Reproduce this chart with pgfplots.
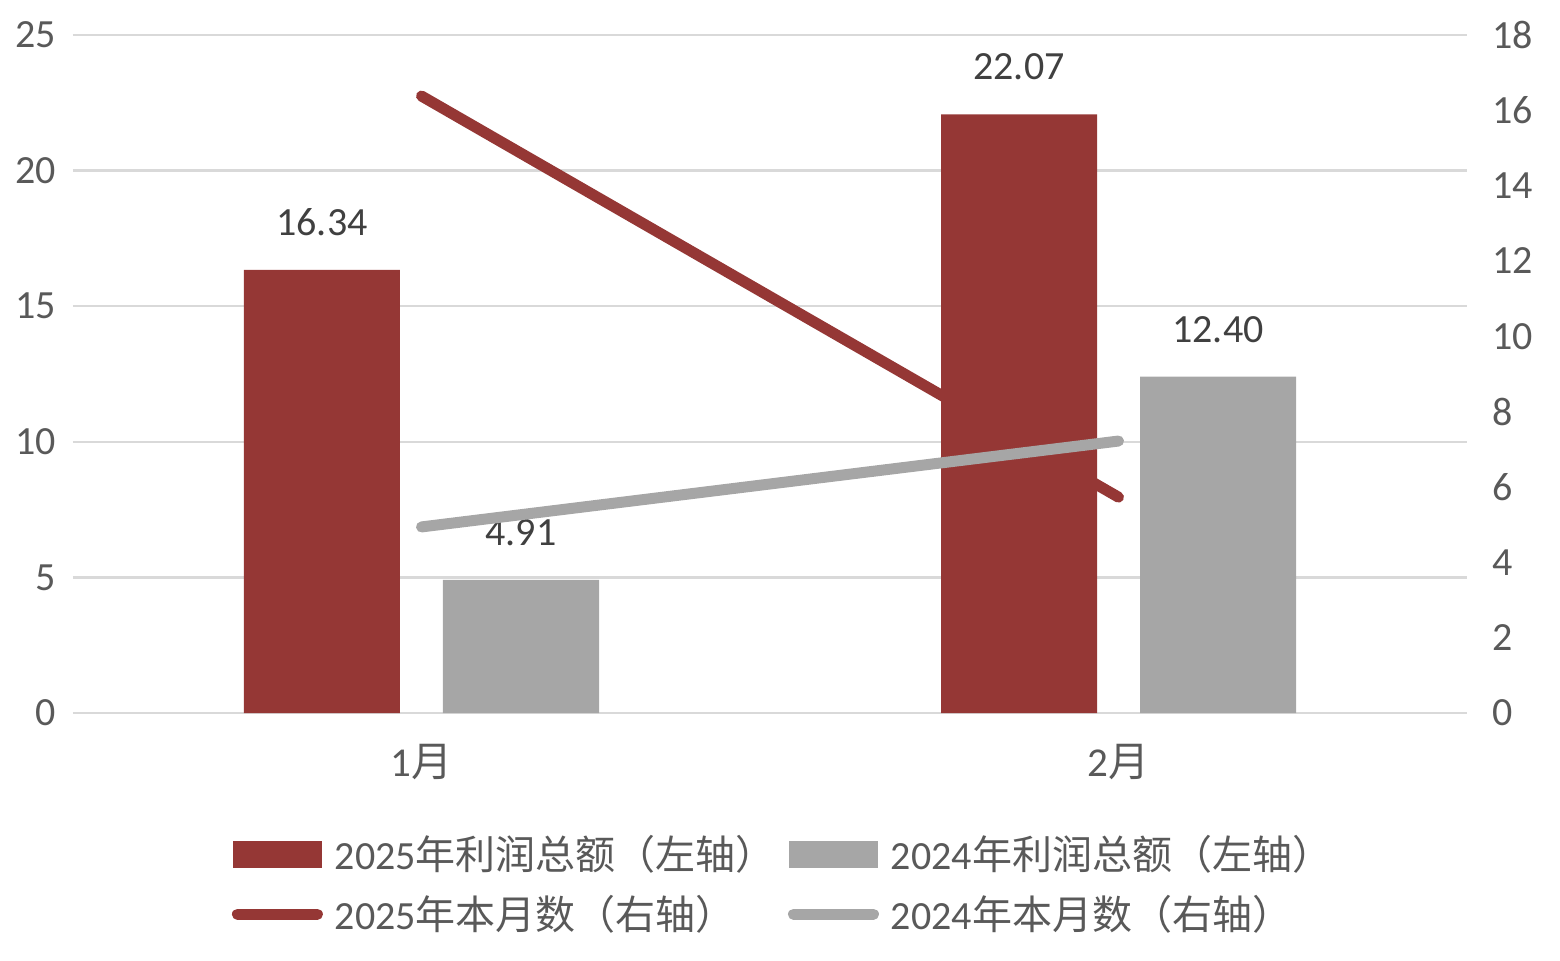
\documentclass[border=0pt]{standalone}
\usepackage{pgfplots}
\pgfplotsset{compat=1.18}
\usepackage{fontspec}
\setmainfont{Carlito}
\newfontfamily\cjk{Noto Sans CJK SC}
\definecolor{cred}{RGB}{149,55,53}
\definecolor{cgray}{RGB}{166,166,166}
\definecolor{cgrid}{RGB}{217,217,217}
\definecolor{ctext}{RGB}{89,89,89}
\definecolor{clabel}{RGB}{64,64,64}
\begin{document}
\begin{tikzpicture}
\path[use as bounding box] (-36.5pt,-123.5pt) rectangle (743.5pt,356.5pt);
\begin{axis}[
  at={(0,0)}, anchor=south west,
  scale only axis, width=697pt, height=339pt,
  xmin=-0.5, xmax=1.5, ymin=0, ymax=25,
  ybar=21.5pt, bar width=78pt,
  xtick={0,1}, xticklabels={{1{\cjk 月}},{2{\cjk 月}}},
  ytick={0,5,...,25},
  ymajorgrids, grid style={cgrid, line width=1.2pt},
  axis y line*=left, axis x line*=bottom,
  y axis line style={draw=none},
  x axis line style={cgrid, line width=1.2pt, -},
  major tick length=0,
  /pgf/number format/assume math mode=true,
  yticklabel style={font=\fontsize{20}{24}\selectfont, text=ctext, xshift=-5pt},
  xticklabel style={font=\fontsize{20.5}{24}\selectfont, text=ctext, yshift=-12pt},
  nodes near coords,
  nodes near coords style={font=\fontsize{20}{24}\selectfont, text=clabel, inner sep=0pt, yshift=17pt,
    /pgf/number format/.cd, fixed, fixed zerofill, precision=2, assume math mode=true},
]
\addplot[fill=cred, draw=none] coordinates {(0,16.34) (1,22.07)};
\addplot[fill=cgray, draw=none] coordinates {(0,4.91) (1,12.40)};
\end{axis}
\begin{axis}[
  at={(0,0)}, anchor=south west,
  scale only axis, width=697pt, height=339pt,
  xmin=-0.5, xmax=1.5, ymin=0, ymax=18,
  ytick={0,2,...,18},
  axis y line*=right, axis x line=none,
  y axis line style={draw=none},
  major tick length=0, clip=false,
  /pgf/number format/assume math mode=true,
  yticklabel style={font=\fontsize{20}{24}\selectfont, text=ctext, xshift=9pt},
  legend columns=2,
  legend cell align=left,
  legend style={draw=none, fill=none, at={(0.5,-0.168)}, anchor=north, xshift=7pt,
    font=\fontsize{20}{24}\selectfont, text=ctext,
    /tikz/every even column/.append style={column sep=4pt},
    /tikz/every odd column/.append style={column sep=4pt},
    row sep=7.5pt},
]
\addlegendimage{legend image code/.code={\fill[cred] (0pt,-6.5pt) rectangle (44pt,6.5pt);}}
\addlegendentry{2025{\cjk 年利润总额（左轴）}}
\addlegendimage{legend image code/.code={\fill[cgray] (0pt,-6.5pt) rectangle (44pt,6.5pt);}}
\addlegendentry{2024{\cjk 年利润总额（左轴）}}
\addplot[cred, line width=5.5pt, line cap=round,
  legend image code/.code={\draw[cred, line width=5.5pt, line cap=round] (2pt,0pt) -- (42pt,0pt);}]
  coordinates {(0,16.38) (1,5.73)};
\addlegendentry{2025{\cjk 年本月数（右轴）}}
\addplot[cgray, line width=5.5pt, line cap=round,
  legend image code/.code={\draw[cgray, line width=5.5pt, line cap=round] (2pt,0pt) -- (42pt,0pt);}]
  coordinates {(0,4.94) (1,7.22)};
\addlegendentry{2024{\cjk 年本月数（右轴）}}
\end{axis}
\end{tikzpicture}
\end{document}
